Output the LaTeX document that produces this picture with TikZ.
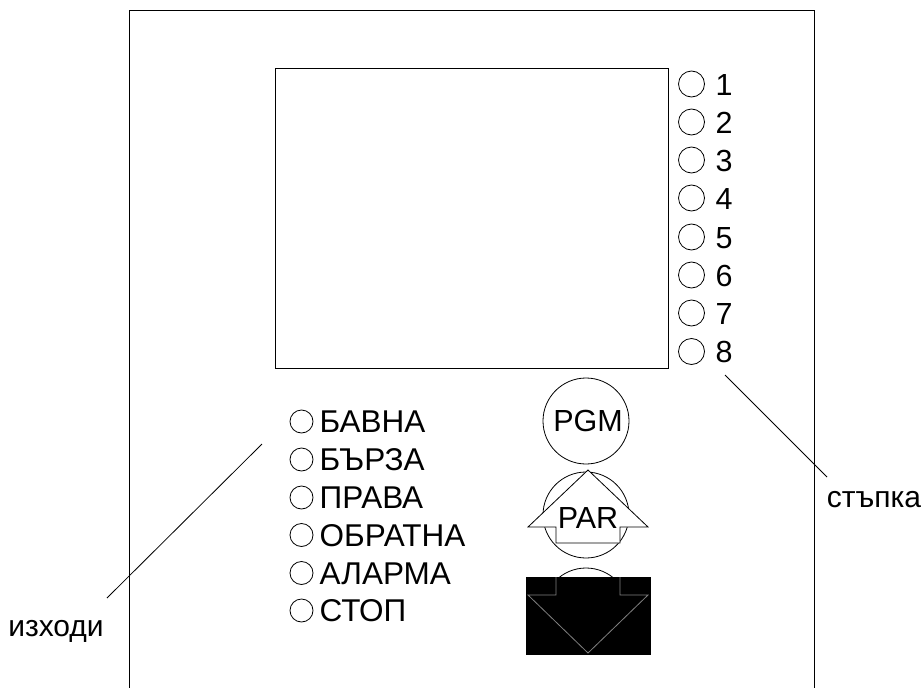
\documentclass[tikz,border=0pt]{standalone}
\usepackage{fontspec}
\setmainfont{Liberation Sans}
\begin{document}
\begin{tikzpicture}[x=1pt,y=-1pt,
  frame/.style={draw=black,line width=1pt},
  led/.style={draw=black,line width=0.8pt,circle,minimum size=26pt,inner sep=0pt},
  ledtxt/.style={anchor=base west,inner sep=0pt,font=\fontsize{31.5}{34}\selectfont},
  digtxt/.style={anchor=base west,inner sep=0pt,font=\fontsize{30.5}{34}\selectfont},
  lbl/.style={inner sep=0pt,font=\fontsize{30}{34}\selectfont},
  btn/.style={draw=black,line width=0.8pt,circle,minimum size=86pt,inner sep=0pt},
  btntxt/.style={inner sep=0pt,font=\fontsize{30.5}{34}\selectfont},
  leader/.style={draw=black,line width=0.8pt}]
\useasboundingbox (0,0) rectangle (924,688);
% outer housing
\coordinate (bl) at (129,690);
\coordinate (tl) at (129,10);
\coordinate (tr) at (814,10);
\coordinate (br) at (814,690);
\draw[frame] (bl) -- (tl) -- (tr) -- (br);
% screen
\node[draw=black,line width=1pt,minimum width=393pt,minimum height=300pt,inner sep=0pt,anchor=north west] (screen) at (275,68) {};
% step LEDs
\foreach \i/\y in {1/84,2/122,3/160,4/198,5/237,6/275,7/313,8/351.5}{
  \node[led] (s\i) at (691.5,\y) {};
  \node[digtxt] (st\i) at (715.5,\y+11) {\i};
}
% output LEDs
\foreach \i/\y/\t in {1/421.5,2/459.5,3/497.5,4/535,5/573,6/610.5}{
  \node[led,minimum size=23pt] (o\i) at (301.5,\y) {};
}
\node[ledtxt] (ot1) at (319.5,432.5) {БАВНА};
\node[ledtxt] (ot2) at (319.5,470.5) {БЪРЗА};
\node[ledtxt] (ot3) at (319.5,508.5) {ПРАВА};
\node[ledtxt] (ot4) at (319.5,546) {ОБРАТНА};
\node[ledtxt] (ot5) at (319.5,584) {АЛАРМА};
\node[ledtxt] (ot6) at (319.5,621.5) {СТОП};
% leaders
\node[lbl,anchor=base] (izh) at (56,636) {изходи};
\node[lbl,anchor=base] (stp) at (874,507) {стъпка};
\coordinate (izhA) at (107,598);
\coordinate (izhB) at (262,444);
\draw[leader] (izhA) -- (izhB);
\coordinate (stpA) at (725,375);
\coordinate (stpB) at (827,477);
\draw[leader] (stpA) -- (stpB);
% PGM button
\node[btn] (pgm) at (586,421) {};
\node[btntxt] (pgmt) at (588,421) {PGM};
% PAR button with up arrow
\node[btn] (par) at (586,515) {};
\coordinate (ua1) at (588,470);
\coordinate (ua2) at (648,527);
\coordinate (ua3) at (620,527);
\coordinate (ua4) at (620,543);
\coordinate (ua5) at (556,543);
\coordinate (ua6) at (556,527);
\coordinate (ua7) at (528,527);
\draw[fill=white,line width=0.8pt] (ua1) -- (ua2) -- (ua3) -- (ua4) -- (ua5) -- (ua6) -- (ua7) -- cycle;
\node[btntxt] (part) at (588,518) {PAR};
% down button
\node[btn] (dn) at (586,611) {};
\fill[black] (526,577) rectangle (651,655);
\coordinate (da1) at (556,577);
\coordinate (da2) at (556,595);
\coordinate (da3) at (528,595);
\coordinate (da4) at (588,653);
\coordinate (da5) at (648,595);
\coordinate (da6) at (620,595);
\coordinate (da7) at (620,577);
\draw[gray,line width=0.8pt] (da1) -- (da2) -- (da3) -- (da4) -- (da5) -- (da6) -- (da7);
\end{tikzpicture}
\end{document}
